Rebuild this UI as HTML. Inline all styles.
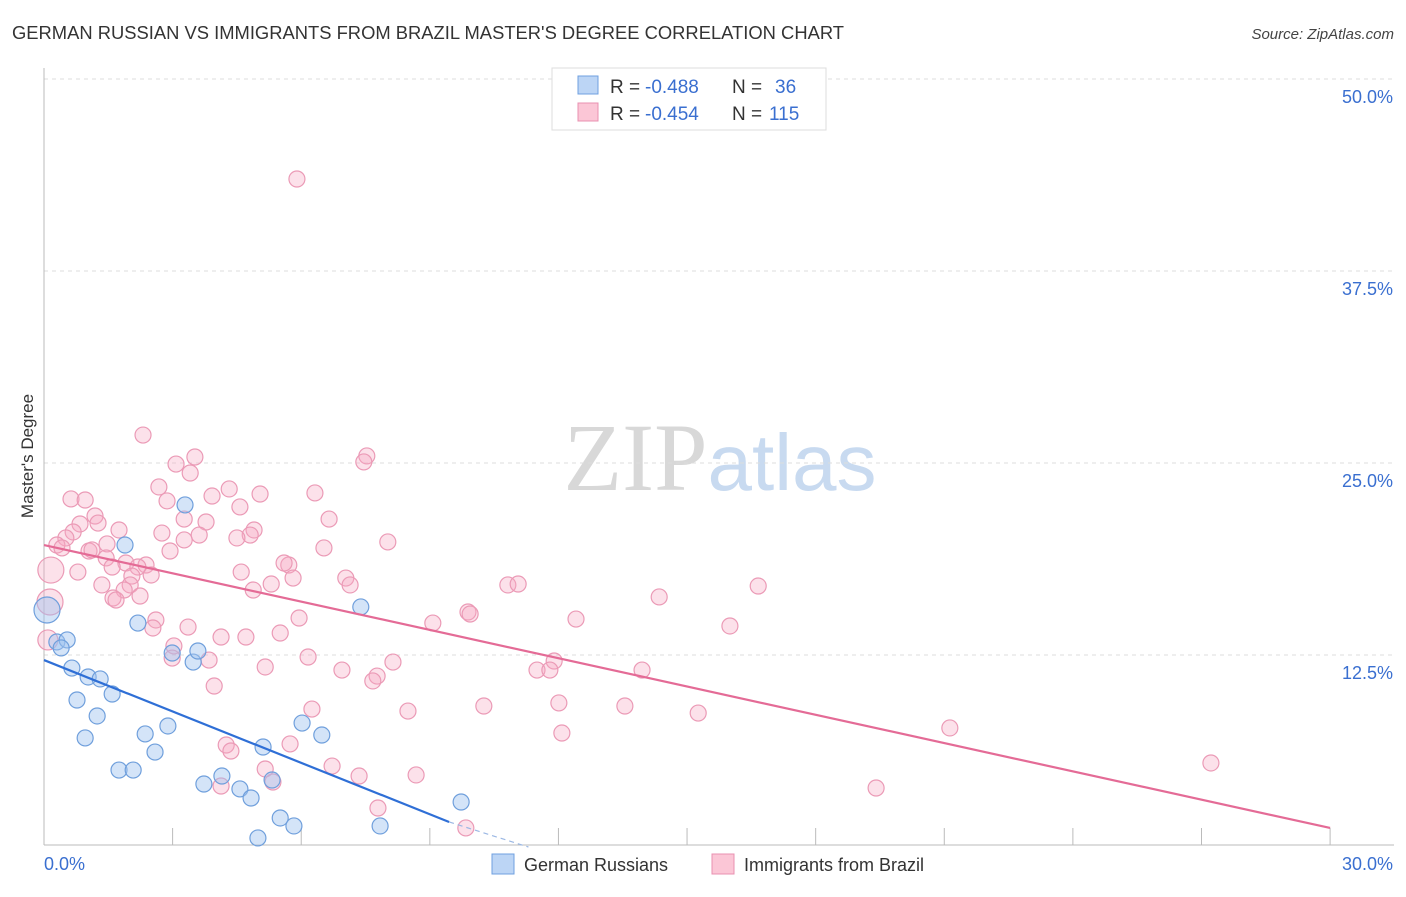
<!DOCTYPE html>
<html><head><meta charset="utf-8"><style>
body{margin:0;background:#fff;font-family:"Liberation Sans",sans-serif;}
svg text{font-family:"Liberation Sans",sans-serif;}
</style></head><body>
<svg id="chart" width="1406" height="892" xmlns="http://www.w3.org/2000/svg">
<text x="12" y="39" font-size="18" fill="#333" textLength="832" lengthAdjust="spacingAndGlyphs">GERMAN RUSSIAN VS IMMIGRANTS FROM BRAZIL MASTER'S DEGREE CORRELATION CHART</text>
<text x="1394" y="39" font-size="15" fill="#444" font-style="italic" text-anchor="end">Source: ZipAtlas.com</text>
<text x="720" y="490" font-size="96" text-anchor="middle"><tspan fill="#d8d8d8" font-family="Liberation Serif">ZIP</tspan><tspan fill="#c8daf0" font-size="80">atlas</tspan></text>
<g id="grid"></g>
<g id="axes"></g>
<g id="pts"></g>
<g id="lines"></g>
<text transform="translate(33,456) rotate(-90)" font-size="17" fill="#333" text-anchor="middle">Master's Degree</text>
<g>
<rect x="552" y="68" width="274" height="62" fill="#fff" stroke="#ddd"/>
<rect x="578" y="76" width="20" height="18" fill="#bcd5f5" stroke="#6fa0e0"/>
<rect x="578" y="103" width="20" height="18" fill="#fbc6d6" stroke="#e890b0"/>
<text x="610" y="93" font-size="19" fill="#333">R =</text>
<text x="645" y="93" font-size="19" fill="#3a6fd0">-0.488</text>
<text x="732" y="93" font-size="19" fill="#333">N =</text>
<text x="775" y="93" font-size="19" fill="#3a6fd0">36</text>
<text x="610" y="120" font-size="19" fill="#333">R =</text>
<text x="645" y="120" font-size="19" fill="#3a6fd0">-0.454</text>
<text x="732" y="120" font-size="19" fill="#333">N =</text>
<text x="769" y="120" font-size="19" fill="#3a6fd0">115</text>
</g>
<g>
<rect x="492" y="854" width="22" height="20" fill="#bcd5f5" stroke="#6fa0e0"/>
<text x="524" y="871" font-size="18" fill="#333">German Russians</text>
<rect x="712" y="854" width="22" height="20" fill="#fbc6d6" stroke="#e890b0"/>
<text x="744" y="871" font-size="18" fill="#333">Immigrants from Brazil</text>
</g>
</svg>
<script>
const yTicks=[12.5,25,37.5,50];
const yTickLabels=["12.5%","25.0%","37.5%","50.0%"];
const xTickLabels=["0.0%","30.0%"];
const blueX=[0.07,0.30,0.54,0.40,0.65,1.03,1.31,0.77,1.59,1.24,0.96,1.89,2.19,2.36,2.59,1.75,2.08,2.89,2.99,3.29,3.48,3.59,3.73,4.15,4.57,4.83,5.11,5.32,5.51,5.83,4.99,6.02,6.48,7.39,7.84,9.73];
const blueY=[15.43,13.35,13.48,12.96,11.65,11.07,10.94,9.57,9.96,8.53,7.10,19.66,14.58,7.36,6.18,5.01,5.01,7.88,12.63,22.27,12.04,12.76,4.10,4.62,3.78,3.19,6.51,4.36,1.89,1.37,0.59,8.07,7.29,15.63,1.37,2.93];
const pinkX=[5.90,2.31,7.53,7.46,3.52,3.08,3.41,2.68,4.32,5.04,6.32,0.63,0.96,2.87,3.92,4.57,1.19,1.26,0.84,3.27,3.78,6.65,0.68,1.75,2.75,3.62,4.90,4.81,4.50,3.27,0.51,0.30,0.42,1.05,1.12,1.47,8.02,6.53,2.94,1.45,1.91,2.38,2.19,1.59,0.79,2.05,2.50,4.60,5.71,5.60,7.04,5.81,1.35,2.01,1.87,1.61,2.24,5.30,4.88,7.14,10.82,11.06,14.35,16.66,1.68,9.89,9.94,12.41,5.95,2.61,2.54,3.36,9.07,16.00,4.13,4.71,5.51,3.03,2.99,3.85,6.16,8.14,5.16,6.95,7.77,7.67,11.90,11.50,11.80,13.95,3.97,6.25,8.49,10.26,12.01,13.55,15.26,21.13,12.08,4.25,4.36,5.74,6.72,5.16,8.68,7.35,5.34,4.13,7.79,19.41,27.22,9.84,0.16,0.14,0.09];
const pinkY=[43.49,26.82,25.46,25.07,25.39,24.93,24.35,23.44,23.31,22.98,23.05,22.66,22.59,22.53,22.85,22.14,21.55,21.09,21.03,21.35,21.16,21.35,20.51,20.64,20.44,20.31,20.64,20.31,20.12,19.99,20.12,19.66,19.47,19.27,19.34,19.73,19.86,19.47,19.27,18.82,18.49,18.36,18.23,18.23,17.90,17.64,17.71,17.90,18.36,18.49,17.51,17.51,17.06,17.06,16.73,16.21,16.34,17.12,16.73,17.06,17.06,17.12,16.28,16.99,16.08,15.30,15.17,14.84,14.91,14.78,14.26,14.32,14.58,14.39,13.67,13.67,13.93,13.09,12.30,12.17,12.37,12.04,11.72,11.52,11.13,10.81,12.11,11.52,11.52,11.52,10.48,8.98,8.85,9.18,9.38,9.18,8.72,7.75,7.42,6.64,6.25,6.71,5.27,5.08,4.69,4.62,4.23,3.97,2.54,3.84,5.47,1.24,18.03,15.95,13.48];
const blueTrendX=[0,9.45,11.3];
const blueTrendY=[12.17,1.63,0];
const pinkTrendX=[0,30];
const pinkTrendY=[19.66,1.24];
const NS="http://www.w3.org/2000/svg";
const sx=v=>44+v*42.87, sy=v=>847-v*15.36;
function mk(t,a,p){const e=document.createElementNS(NS,t);for(const k in a)e.setAttribute(k,a[k]);p.appendChild(e);return e;}
const grid=document.getElementById('grid'),axes=document.getElementById('axes'),pts=document.getElementById('pts'),lines=document.getElementById('lines');
yTicks.forEach((t,i)=>{
 const l=mk('line',{x1:44,x2:1394,y1:sy(t),y2:sy(t),stroke:'#ddd','stroke-dasharray':'4,4'},grid);
 
 
 const tx=mk('text',{x:1393,y:sy(t)+24,'font-size':18,fill:'#3a6fd0','text-anchor':'end'},axes);
 tx.textContent=yTickLabels[i];
 
 
});
let a=mk('line',{x1:44,x2:44,y1:68,y2:845,stroke:'#bbb'},axes);


a=mk('line',{x1:44,x2:1394,y1:845,y2:845,stroke:'#bbb'},axes);


for(let i=1;i<=10;i++){const t=mk('line',{x1:sx(i*3),x2:sx(i*3),y1:828,y2:845,stroke:'#bbb'},axes);
 
 }
let xl=mk('text',{x:44,y:870,'font-size':18,fill:'#3a6fd0'},axes);xl.textContent=xTickLabels[0];


xl=mk('text',{x:1393,y:870,'font-size':18,fill:'#3a6fd0','text-anchor':'end'},axes);xl.textContent=xTickLabels[1];


pinkX.forEach((x,i)=>{const r=(i>=pinkX.length-3)?(i==pinkX.length-1?10:13):8;
 const c=mk('circle',{cx:sx(x),cy:sy(pinkY[i]),r:r,fill:'rgba(245,170,195,0.35)',stroke:'#eb9ab6','stroke-width':1.2},pts);
 
 });
blueX.forEach((x,i)=>{const r=i==0?13:8;
 const c=mk('circle',{cx:sx(x),cy:sy(blueY[i]),r:r,fill:'rgba(160,195,240,0.45)',stroke:'#6f9fdc','stroke-width':1.2},pts);
 
 });
let ln=mk('line',{x1:sx(pinkTrendX[0]),y1:sy(pinkTrendY[0]),x2:sx(pinkTrendX[1]),y2:sy(pinkTrendY[1]),stroke:'#e46b96','stroke-width':2.2},lines);


ln=mk('line',{x1:sx(blueTrendX[0]),y1:sy(blueTrendY[0]),x2:sx(blueTrendX[1]),y2:sy(blueTrendY[1]),stroke:'#2f6fd6','stroke-width':2.2},lines);


ln=mk('line',{x1:sx(blueTrendX[1]),y1:sy(blueTrendY[1]),x2:sx(blueTrendX[2]),y2:sy(blueTrendY[2]),stroke:'#9bb8e4','stroke-width':1.2,'stroke-dasharray':'5,4'},lines);


</script>
</body></html>
